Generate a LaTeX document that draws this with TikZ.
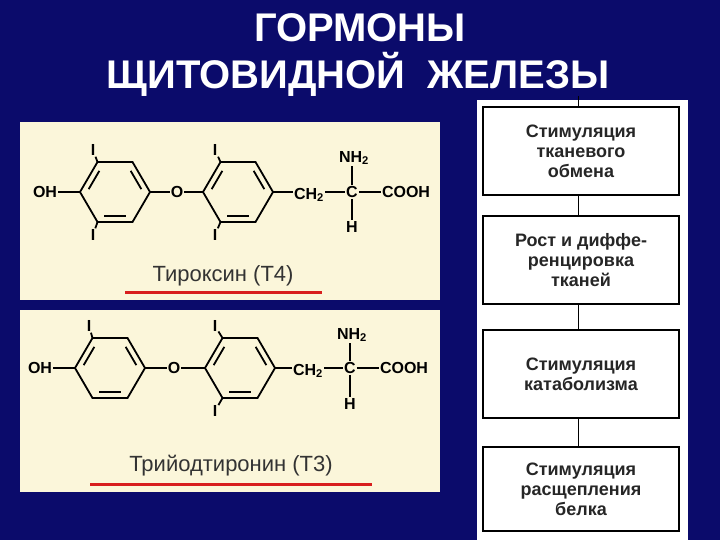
\documentclass[tikz,border=0pt]{standalone}
\usepackage{fontspec}
\setmainfont{Liberation Sans}
\definecolor{navy}{HTML}{0B0B6B}
\definecolor{cream}{HTML}{FBF6DA}
\definecolor{ulred}{HTML}{D81E1E}
\newcommand\benz[3]{%
 \coordinate (#1-L) at (#2-35,#3);
 \coordinate (#1-TL) at (#2-17.5,#3-30);
 \coordinate (#1-TR) at (#2+17.5,#3-30);
 \coordinate (#1-R) at (#2+35,#3);
 \coordinate (#1-BR) at (#2+17.5,#3+30);
 \coordinate (#1-BL) at (#2-17.5,#3+30);
 \coordinate (#1-c) at (#2,#3);
 \draw[bond] (#1-L)--(#1-TL)--(#1-TR)--(#1-R)--(#1-BR)--(#1-BL)--cycle;
 \draw[bond] ($(#1-L)!0.12!(#1-TL)!0.2!(#1-c)$)--($(#1-TL)!0.12!(#1-L)!0.2!(#1-c)$);
 \draw[bond] ($(#1-R)!0.12!(#1-TR)!0.2!(#1-c)$)--($(#1-TR)!0.12!(#1-R)!0.2!(#1-c)$);
 \draw[bond] ($(#1-BL)!0.12!(#1-BR)!0.2!(#1-c)$)--($(#1-BR)!0.12!(#1-BL)!0.2!(#1-c)$);
}
\usetikzlibrary{calc}
\begin{document}
\begin{tikzpicture}[x=1pt,y=-1pt,
 bond/.style={line width=1.8pt},
 atom/.style={font=\bfseries\fontsize{16}{16}\selectfont,inner sep=1pt},
 title/.style={font=\bfseries\fontsize{40}{40}\selectfont,text=white},
 lab/.style={font=\fontsize{22}{22}\selectfont,text=black!80},
 effbox/.style={draw=black,line width=1.6pt,fill=white,minimum width=196pt,align=center,font=\bfseries\fontsize{18}{20}\selectfont,text=black!85}]
\fill[navy] (0,0) rectangle (720,540);
\useasboundingbox (0,0) rectangle (720,540);
\node[title] (t1) at (360,28) {ГОРМОНЫ};
\node[title] (t2) at (358,74) {ЩИТОВИДНОЙ\ \ ЖЕЛЕЗЫ};
% panels
\fill[cream] (20,122) rectangle (440,300);
\fill[cream] (20,310) rectangle (440,492);
\fill[white] (477,100) rectangle (688,540);
% T4
\benz{a}{115}{192}
\benz{b}{238}{192}
\node[atom] (oh1) at (45,192) {OH};
\node[atom] (o1) at (177,192) {O};
\node[atom] (ch1) at (309,195) {CH\textsubscript{2}};
\node[atom] (c1) at (352,192) {C};
\node[atom] (co1) at (406,192) {COOH};
\node[atom] (nh1) at (354,158) {NH\textsubscript{2}};
\node[atom] (h1) at (352,227) {H};
\node[atom] (i1) at (93,150) {I};
\node[atom] (i2) at (93,235) {I};
\node[atom] (i3) at (215,150) {I};
\node[atom] (i4) at (215,235) {I};
\draw[bond] (oh1)--(a-L); \draw[bond] (a-R)--(o1); \draw[bond] (o1)--(b-L);
\draw[bond] (b-R)--(ch1.west|-b-R); \draw[bond] (ch1.east|-c1)--(c1); \draw[bond] (c1)--(co1);
\draw[bond] (c1)--(nh1.south-|c1); \draw[bond] (c1)--(h1);
\draw[bond] (i1)--(a-TL); \draw[bond] (i2)--(a-BL); \draw[bond] (i3)--(b-TL); \draw[bond] (i4)--(b-BL);
\node[lab] (n4) at (223,276) {Тироксин (Т4)};
\draw[ulred,line width=3pt] (125,292)--(322,292);
% T3
\benz{p}{110}{368}
\benz{q}{240}{368}
\node[atom] (oh2) at (40,368) {OH};
\node[atom] (o2) at (174,368) {O};
\node[atom] (ch2) at (308,371) {CH\textsubscript{2}};
\node[atom] (c2) at (350,368) {C};
\node[atom] (co2) at (404,368) {COOH};
\node[atom] (nh2) at (352,335) {NH\textsubscript{2}};
\node[atom] (h2) at (350,404) {H};
\node[atom] (j1) at (89,326) {I};
\node[atom] (j3) at (215,326) {I};
\node[atom] (j4) at (215,411) {I};
\draw[bond] (oh2)--(p-L); \draw[bond] (p-R)--(o2); \draw[bond] (o2)--(q-L);
\draw[bond] (q-R)--(ch2.west|-q-R); \draw[bond] (ch2.east|-c2)--(c2); \draw[bond] (c2)--(co2);
\draw[bond] (c2)--(nh2.south-|c2); \draw[bond] (c2)--(h2);
\draw[bond] (j1)--(p-TL); \draw[bond] (j3)--(q-TL); \draw[bond] (j4)--(q-BL);
\node[lab] (n3) at (231,466) {Трийодтиронин (Т3)};
\draw[ulred,line width=3pt] (90,484)--(372,484);
% effects
\coordinate (top) at (578,96);
\node[effbox,minimum height=88pt] (e1) at (581,151) {Стимуляция\\тканевого\\обмена};
\node[effbox,minimum height=88pt] (e2) at (581,260) {Рост и диффе-\\ренцировка\\тканей};
\node[effbox,minimum height=88pt] (e3) at (581,374) {Стимуляция\\катаболизма};
\node[effbox,minimum height=84pt] (e4) at (581,489) {Стимуляция\\расщепления\\белка};
\draw[line width=1pt] (top)--(e1.north-|top);
\draw[line width=1pt] (e1.south-|top)--(e2.north-|top);
\draw[line width=1pt] (e2.south-|top)--(e3.north-|top);
\draw[line width=1pt] (e3.south-|top)--(e4.north-|top);
\end{tikzpicture}
\end{document}
